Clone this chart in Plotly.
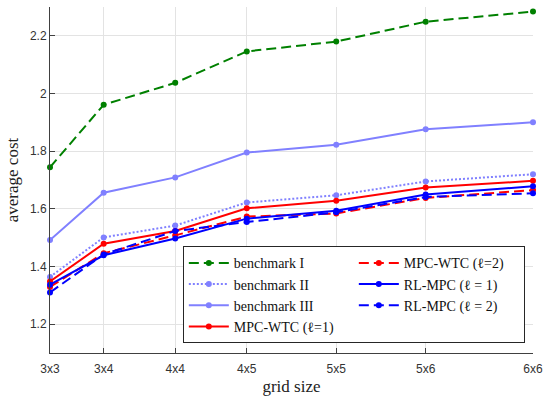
import plotly.graph_objects as go

# Grid sizes and the number of cells each one has (used as the x position)
grid_labels = ["3x3", "3x4", "4x4", "4x5", "5x5", "5x6", "6x6"]
grid_cells = [9, 12, 16, 20, 25, 30, 36]

# Average cost per method
benchmark_1 = [1.744, 1.961, 2.037, 2.146, 2.180, 2.249, 2.284]
benchmark_2 = [1.364, 1.501, 1.542, 1.622, 1.647, 1.695, 1.720]
benchmark_3 = [1.492, 1.656, 1.709, 1.795, 1.822, 1.876, 1.900]
mpc_wtc_1 = [1.348, 1.479, 1.523, 1.602, 1.628, 1.674, 1.697]
mpc_wtc_2 = [1.329, 1.446, 1.508, 1.573, 1.584, 1.638, 1.665]
rl_mpc_1 = [1.337, 1.439, 1.497, 1.566, 1.593, 1.650, 1.678]
rl_mpc_2 = [1.310, 1.442, 1.523, 1.554, 1.588, 1.641, 1.654]

y_ticks = [1.2, 1.4, 1.6, 1.8, 2.0, 2.2]

series = [
    # name, values, colour, dash, legend rank (row-major for a 2-column legend)
    ("benchmark I", benchmark_1, "#008000", "10px,5px", 1),
    ("benchmark II", benchmark_2, "#8080ff", "2px,2px", 3),
    ("benchmark III", benchmark_3, "#8080ff", "solid", 5),
    ("MPC-WTC (ℓ=1)", mpc_wtc_1, "#ff0000", "solid", 7),
    ("MPC-WTC (ℓ=2)", mpc_wtc_2, "#ff0000", "10px,5px", 2),
    ("RL-MPC (ℓ = 1)", rl_mpc_1, "#0000ff", "solid", 4),
    ("RL-MPC (ℓ = 2)", rl_mpc_2, "#0000ff", "10px,5px", 6),
]

fig = go.Figure()
for name, values, colour, dash, rank in series:
    fig.add_trace(go.Scatter(
        x=grid_cells, y=values, name=name, mode="lines+markers",
        line=dict(color=colour, width=2, dash=dash),
        marker=dict(color=colour, size=6, symbol="circle"),
        legendrank=rank, cliponaxis=False,
    ))

axis_font = dict(family="Liberation Sans, Arial, sans-serif", size=12, color="#333333")
title_font = dict(family="Liberation Serif, Times New Roman, serif", size=17, color="#222222")

fig.update_layout(
    width=554, height=401,
    margin=dict(l=50, r=21, t=7, b=48),
    paper_bgcolor="white", plot_bgcolor="white",
    showlegend=True,
    legend=dict(
        orientation="h", x=0.275, y=0.028, xanchor="left", yanchor="bottom",
        bgcolor="white", bordercolor="#262626", borderwidth=1,
        font=dict(family="Liberation Serif, Times New Roman, serif", size=14, color="#111111"),
        itemwidth=40, entrywidth=115, tracegroupgap=0,
    ),
    xaxis=dict(
        range=[9, 36], tickmode="array", tickvals=grid_cells, ticktext=grid_labels,
        showgrid=True, gridcolor="#e3e3e3", gridwidth=1, zeroline=False,
        showline=True, linecolor="#404040", linewidth=1, mirror=False,
        ticks="inside", ticklen=5, tickcolor="#404040",
        tickfont=axis_font, ticklabelstandoff=5,
        title=dict(text="grid size", font=title_font, standoff=4),
    ),
    yaxis=dict(
        range=[1.1, 2.3], tickmode="array", tickvals=y_ticks,
        ticktext=[f"{v:g}" for v in y_ticks],
        showgrid=True, gridcolor="#e3e3e3", gridwidth=1, zeroline=False,
        showline=True, linecolor="#404040", linewidth=1, mirror=False,
        ticks="inside", ticklen=5, tickcolor="#404040",
        tickfont=axis_font,
        title=dict(text="average cost", font=title_font, standoff=6),
    ),
)

fig.write_html("out.html")
